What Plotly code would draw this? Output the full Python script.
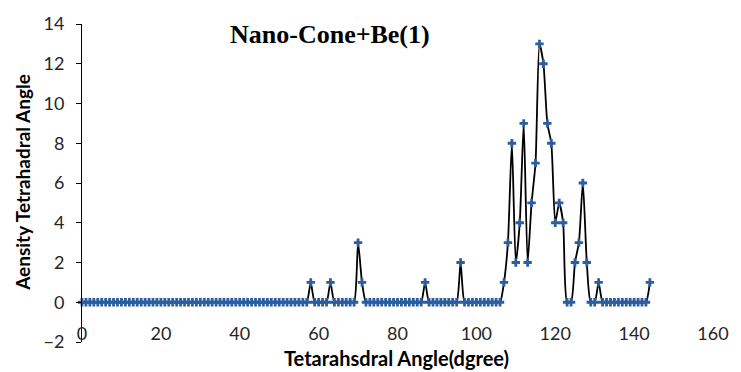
import plotly.graph_objects as go

# Tetrahedral angle (degree) sample positions
angle_deg = [
    0, 1, 2, 3, 4, 5, 6, 7, 8, 9,
    10, 11, 12, 13, 14, 15, 16, 17, 18, 19,
    20, 21, 22, 23, 24, 25, 26, 27, 28, 29,
    30, 31, 32, 33, 34, 35, 36, 37, 38, 39,
    40, 41, 42, 43, 44, 45, 46, 47, 48, 49,
    50, 51, 52, 53, 54, 55, 56, 57, 58, 59,
    60, 61, 62, 63, 64, 65, 66, 67, 68, 69,
    70, 71, 72, 73, 74, 75, 76, 77, 78, 79,
    80, 81, 82, 83, 84, 85, 86, 87, 88, 89,
    90, 91, 92, 93, 94, 95, 96, 97, 98, 99,
    100, 101, 102, 103, 104, 105, 106, 107, 108, 109,
    110, 111, 112, 113, 114, 115, 116, 117, 118, 119,
    120, 121, 122, 123, 124, 125, 126, 127, 128, 129,
    130, 131, 132, 133, 134, 135, 136, 137, 138, 139,
    140, 141, 142, 143, 144,
]

# Density of tetrahedral angle
density = [
    0, 0, 0, 0, 0, 0, 0, 0, 0, 0,
    0, 0, 0, 0, 0, 0, 0, 0, 0, 0,
    0, 0, 0, 0, 0, 0, 0, 0, 0, 0,
    0, 0, 0, 0, 0, 0, 0, 0, 0, 0,
    0, 0, 0, 0, 0, 0, 0, 0, 0, 0,
    0, 0, 0, 0, 0, 0, 0, 0, 1, 0,
    0, 0, 0, 1, 0, 0, 0, 0, 0, 0,
    3, 1, 0, 0, 0, 0, 0, 0, 0, 0,
    0, 0, 0, 0, 0, 0, 0, 1, 0, 0,
    0, 0, 0, 0, 0, 0, 2, 0, 0, 0,
    0, 0, 0, 0, 0, 0, 0, 1, 3, 8,
    2, 4, 9, 2, 5, 7, 13, 12, 9, 8,
    4, 5, 4, 0, 0, 2, 3, 6, 2, 0,
    0, 1, 0, 0, 0, 0, 0, 0, 0, 0,
    0, 0, 0, 0, 1,
]

x_ticks = [0, 20, 40, 60, 80, 100, 120, 140, 160]
y_ticks = [-2, 0, 2, 4, 6, 8, 10, 12, 14]

title_text = "Nano-Cone+Be(1)"
x_title = "Tetarahsdral Angle(dgree)"
y_title = "Aensity Tetrahadral Angle"

fig = go.Figure()
fig.add_trace(go.Scatter(
    x=angle_deg, y=density, mode="lines+markers",
    line=dict(color="black", width=1.8, shape="spline", smoothing=0.6),
    marker=dict(symbol="cross", size=7, color="#2C5D9E"),
    cliponaxis=False, showlegend=False,
))

tick_font = dict(family="Lato", size=18, color="#262626")

fig.update_layout(
    width=741, height=372,
    margin=dict(l=82, r=19, t=22, b=30),
    paper_bgcolor="white", plot_bgcolor="white",
    xaxis=dict(range=[0, 160], tickvals=x_ticks, showline=False, ticks="",
               showgrid=False, zeroline=False, ticklabelstandoff=-21,
               tickfont=tick_font),
    xaxis2=dict(range=[0, 160], overlaying="x", anchor="free", position=0.125,
                tickvals=x_ticks, showline=True, linecolor="black", linewidth=1,
                ticks="outside", ticklen=5, tickcolor="black",
                showticklabels=False, showgrid=False, zeroline=False),
    yaxis=dict(range=[-2, 14], tickvals=y_ticks, showline=True, linecolor="black",
               linewidth=1, ticks="outside", ticklen=5, tickcolor="black",
               showgrid=False, zeroline=False, tickfont=tick_font,
               ticklabelstandoff=8),
    annotations=[
        dict(text="<b>" + title_text + "</b>", xref="paper", yref="paper",
             x=(334 - 82) / 640, y=0.966,
             showarrow=False, xanchor="center", yanchor="middle",
             font=dict(family="Liberation Serif", size=26, color="black")),
        dict(text="<b>" + x_title + "</b>", xref="paper", yref="paper",
             x=(401 - 82) / 640, y=1 - (358 - 22) / 320, showarrow=False,
             xanchor="center", yanchor="middle",
             font=dict(family="Lato", size=20, color="black")),
        dict(text="<b>" + y_title + "</b>", xref="paper", yref="paper",
             x=(21 - 82) / 640, y=1 - (181 - 22) / 320, showarrow=False,
             textangle=-90, xanchor="center", yanchor="middle",
             font=dict(family="Lato", size=19, color="black")),
    ],
)

fig.write_html("out.html")
